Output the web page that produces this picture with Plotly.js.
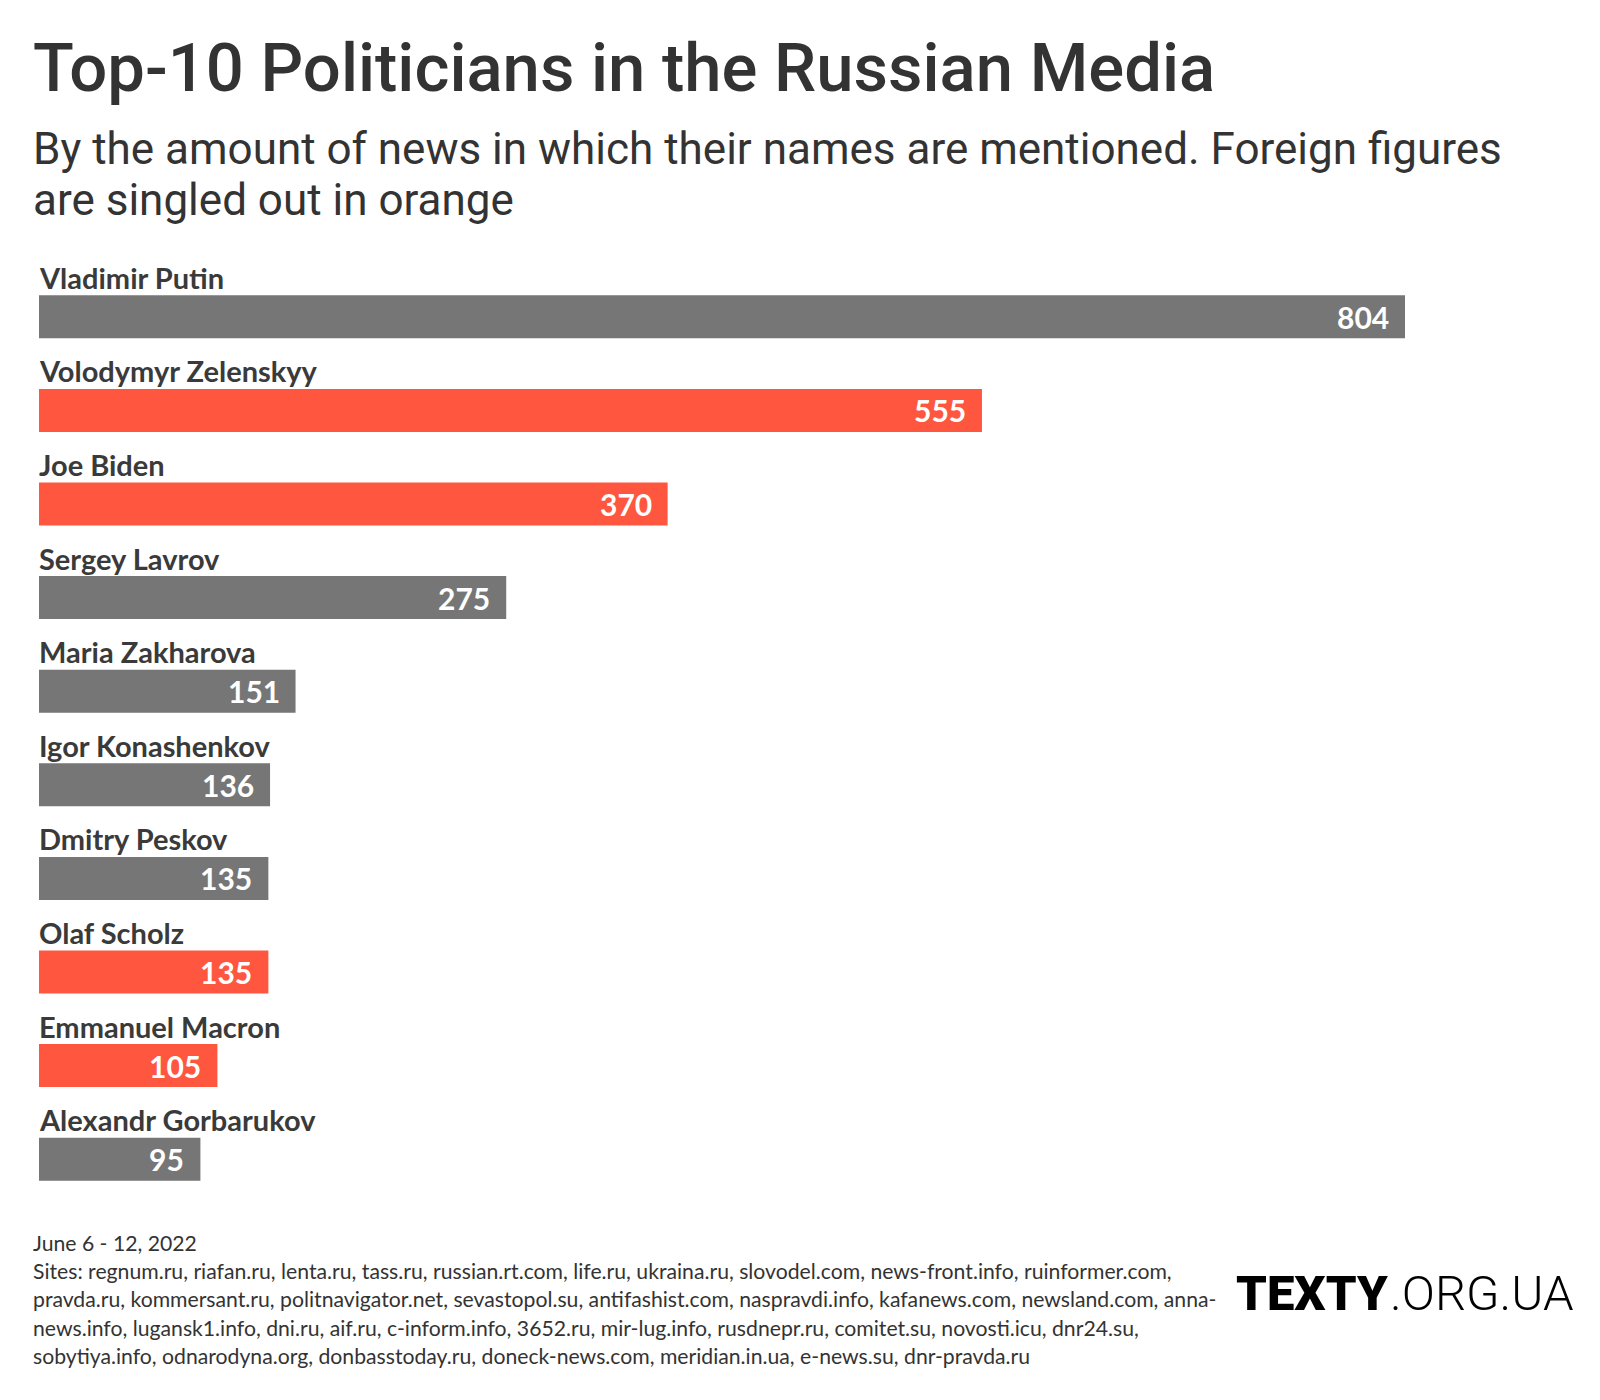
<!DOCTYPE html>
<html>
<head>
<meta charset="utf-8">
<script src="https://cdn.plot.ly/plotly-3.0.1.min.js"></script>
<style>html,body{margin:0;padding:0;background:#fff;}#chart{width:1600px;height:1400px;}</style>
</head>
<body>
<div id="chart"></div>
<script>
const names = ["Vladimir Putin","Volodymyr Zelenskyy","Joe Biden","Sergey Lavrov","Maria Zakharova","Igor Konashenkov","Dmitry Peskov","Olaf Scholz","Emmanuel Macron","Alexandr Gorbarukov"];
const mentions = [804,555,370,275,151,136,135,135,105,95];
const foreign = [false,true,true,false,false,false,false,true,true,false];
const titleText = "Top-10 Politicians in the Russian Media";
const subtitleLines = ["By the amount of news in which their names are mentioned. Foreign figures","are singled out in orange"];
const footerLines = [
  "June 6 - 12, 2022",
  "Sites: regnum.ru, riafan.ru, lenta.ru, tass.ru, russian.rt.com, life.ru, ukraina.ru, slovodel.com, news-front.info, ruinformer.com,",
  "pravda.ru, kommersant.ru, politnavigator.net, sevastopol.su, antifashist.com, naspravdi.info, kafanews.com, newsland.com, anna-",
  "news.info, lugansk1.info, dni.ru, aif.ru, c-inform.info, 3652.ru, mir-lug.info, rusdnepr.ru, comitet.su, novosti.icu, dnr24.su,",
  "sobytiya.info, odnarodyna.org, donbasstoday.ru, doneck-news.com, meridian.in.ua, e-news.su, dnr-pravda.ru"
];

const GRAY = "#767676", ORANGE = "#FF5640", DARK = "#333333";
const W = 1600, H = 1400;
const L = 39, R = 40, T = 269.5, B = 194;
const pw = W - L - R, ph = H - T - B;
const px = x => (x - L) / pw;
const py = y => (H - B - y) / ph;

const headFont = "Roboto, sans-serif";
const bodyFont = "Lato, 'Open Sans', sans-serif";

const annotations = [];
names.forEach((n, i) => {
  annotations.push({x: 0, y: n, xref: 'x', yref: 'y', text: n, showarrow: false,
    xanchor: 'left', yanchor: 'bottom', yshift: 20, xshift: -2,
    font: {family: bodyFont, size: 29, color: '#3a3a3a', weight: 'bold'}});
  annotations.push({x: mentions[i], y: n, xref: 'x', yref: 'y', text: String(mentions[i]), showarrow: false,
    xanchor: 'right', yanchor: 'middle', xshift: -14,
    font: {family: bodyFont, size: 30, color: '#ffffff', weight: 'bold'}});
});
annotations.push({x: px(31), y: py(67), xref: 'paper', yref: 'paper', text: titleText, showarrow: false,
  xanchor: 'left', yanchor: 'middle', font: {family: headFont, size: 67, color: DARK, weight: 500}});
subtitleLines.forEach((s, i) => {
  annotations.push({x: px(31), y: py(148 + i * 51), xref: 'paper', yref: 'paper', text: s, showarrow: false,
    xanchor: 'left', yanchor: 'middle', font: {family: headFont, size: 44, color: DARK}});
});
footerLines.forEach((s, i) => {
  annotations.push({x: px(31), y: py(1243 + i * 28.2), xref: 'paper', yref: 'paper', text: s, showarrow: false,
    xanchor: 'left', yanchor: 'middle', font: {family: bodyFont, size: 21.2, color: DARK}});
});
annotations.push({x: px(1389), y: py(1294), xref: 'paper', yref: 'paper', text: 'TEXTY', showarrow: false,
  xanchor: 'right', yanchor: 'middle', xshift: 1, font: {family: headFont, size: 49, color: '#000', weight: 900}});
annotations.push({x: px(1389), y: py(1294), xref: 'paper', yref: 'paper', text: '.ORG.UA', showarrow: false,
  xanchor: 'left', yanchor: 'middle', xshift: -1, font: {family: headFont, size: 49, color: '#000', weight: 300}});

const data = [{
  type: 'bar', orientation: 'h', x: mentions, y: names,
  marker: {color: foreign.map(f => f ? ORANGE : GRAY)},
  hoverinfo: 'none'
}];
const layout = {
  width: W, height: H, margin: {l: L, r: R, t: T, b: B},
  paper_bgcolor: '#fff', plot_bgcolor: '#fff', showlegend: false,
  bargap: 0.541,
  xaxis: {range: [0, 804 * pw / 1366], visible: false, fixedrange: true},
  yaxis: {range: [9.5, -0.5], visible: false, fixedrange: true, type: 'category'},
  annotations: annotations
};
Plotly.newPlot('chart', data, layout, {staticPlot: true});
</script>
</body>
</html>
